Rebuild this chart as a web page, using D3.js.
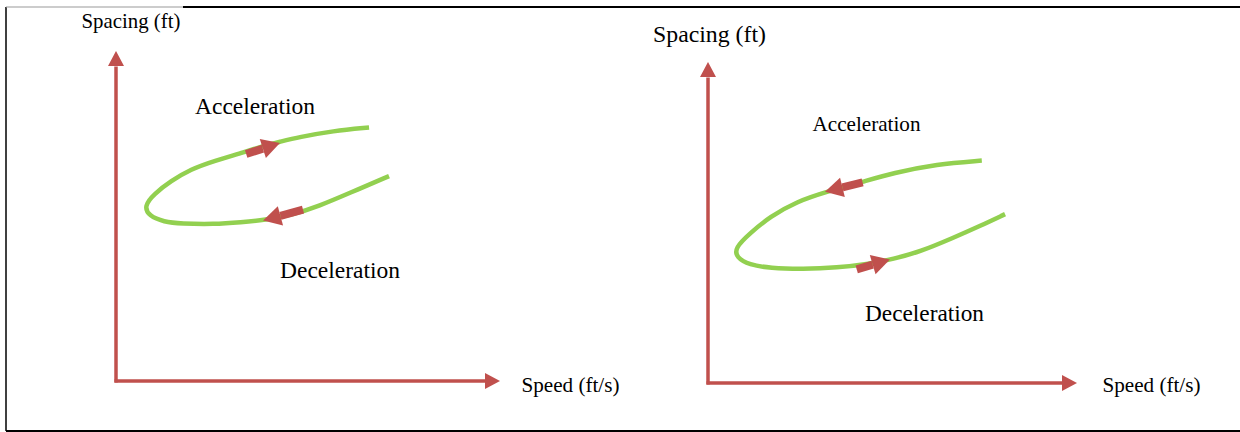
<!DOCTYPE html>
<html>
<head>
<meta charset="utf-8">
<script src="https://cdn.jsdelivr.net/npm/d3@7"></script>
<style>
  body { margin: 0; background: #fff; }
  text { font-family: "Liberation Serif", "Times New Roman", serif; fill: #000; }
</style>
</head>
<body>
<script>
// curve points (speed, spacing) in relative units 0-100 for each panel
const leftSpeed = [65.9, 56.5, 47.7, 42.4, 38.8, 33.6, 25.5, 19.5, 14.3, 9.9, 7.3, 8.6, 12.5, 16.9, 25.5, 32.6, 38.8, 45.8, 52.9, 60.9, 71.1];
const leftSpacing = [76.8, 75.8, 73.9, 72.4, 71.4, 69.4, 66.7, 64.2, 60.6, 56.7, 53.0, 50.0, 48.2, 47.7, 47.5, 48.1, 48.8, 50.3, 53.0, 57.0, 62.1];
const rightSpeed = [74.2, 62.0, 50.1, 42.0, 32.2, 24.0, 16.8, 11.4, 7.3, 7.7, 11.2, 16.8, 25.7, 34.9, 43.9, 50.1, 57.5, 66.4, 73.7, 80.5];
const rightSpacing = [69.3, 68.2, 65.4, 62.7, 59.6, 56.5, 51.8, 46.7, 42.1, 39.1, 36.8, 35.8, 35.5, 35.9, 37.1, 38.6, 40.9, 45.2, 48.9, 52.6];

// direction arrows: [tailSpeed, tailSpacing, tipSpeed, tipSpacing]
const leftArrows = [[33.9, 68.8, 42.7, 72.1], [48.7, 51.9, 38.3, 48.6]];
const rightArrows = [[41.9, 62.5, 31.7, 59.6], [40.3, 35.4, 49.3, 38.5]];

const axisLabels = ["Spacing (ft)", "Speed (ft/s)"];
const phaseLabels = ["Acceleration", "Deceleration"];

const red = "#c0504d";
const green = "#92d050";

const W = 1240, H = 432;

const svg = d3.select("body")
  .append("svg")
  .attr("width", W)
  .attr("height", H);

// outer frame
svg.append("line").attr("x1", 6).attr("y1", 7).attr("x2", 6).attr("y2", 431)
  .attr("stroke", "#000").attr("stroke-width", 1.5);
svg.append("line").attr("x1", 6).attr("y1", 431).attr("x2", W).attr("y2", 431)
  .attr("stroke", "#000").attr("stroke-width", 2);
svg.append("line").attr("x1", 6).attr("y1", 7).attr("x2", 183).attr("y2", 7)
  .attr("stroke", "#999").attr("stroke-width", 1);
svg.append("line").attr("x1", 183).attr("y1", 7).attr("x2", W).attr("y2", 7)
  .attr("stroke", "#000").attr("stroke-width", 2);

const panels = [
  {
    speed: leftSpeed, spacing: leftSpacing, arrows: leftArrows,
    xr: [116, 500], yr: [381, 51],
    labels: [
      { t: axisLabels[0], x: 81.5, y: 27.7, fs: 21, len: 99 },
      { t: phaseLabels[0], x: 195, y: 114, fs: 23.5, len: 120 },
      { t: phaseLabels[1], x: 280, y: 278.3, fs: 23.5, len: 120 },
      { t: axisLabels[1], x: 521.5, y: 392.3, fs: 21, len: 98 }
    ]
  },
  {
    speed: rightSpeed, spacing: rightSpacing, arrows: rightArrows,
    xr: [708, 1077], yr: [383, 62],
    labels: [
      { t: axisLabels[0], x: 653, y: 41.7, fs: 24, len: 113 },
      { t: phaseLabels[0], x: 812.5, y: 130.7, fs: 21, len: 108 },
      { t: phaseLabels[1], x: 865, y: 321.3, fs: 23.5, len: 119 },
      { t: axisLabels[1], x: 1102.5, y: 391.7, fs: 21, len: 98 }
    ]
  }
];

function arrowHead(g, x1, y1, x2, y2, len, half) {
  const a = Math.atan2(y2 - y1, x2 - x1);
  const bx = x2 - len * Math.cos(a), by = y2 - len * Math.sin(a);
  const nx = -Math.sin(a) * half, ny = Math.cos(a) * half;
  g.append("path")
    .attr("d", `M${x2},${y2}L${bx + nx},${by + ny}L${bx - nx},${by - ny}Z`)
    .attr("fill", red);
  return [bx, by];
}

panels.forEach(p => {
  const x = d3.scaleLinear().domain([0, 100]).range(p.xr);
  const y = d3.scaleLinear().domain([0, 100]).range(p.yr);
  const g = svg.append("g");

  // axes with arrowheads
  const x0 = x(0), y0 = y(0);
  const yb = arrowHead(g, x0, y0, x0, y(100), 15, 8);
  g.append("line").attr("x1", x0).attr("y1", y0 + 1.5).attr("x2", x0).attr("y2", yb[1] + 0.5)
    .attr("stroke", red).attr("stroke-width", 3.5);
  const xb = arrowHead(g, x0, y0, x(100), y0, 15, 8);
  g.append("line").attr("x1", x0 - 1.5).attr("y1", y0).attr("x2", xb[0] + 0.5).attr("y2", y0)
    .attr("stroke", red).attr("stroke-width", 3.5);

  // hysteresis curve
  const pts = p.speed.map((s, i) => [s, p.spacing[i]]);
  const line = d3.line()
    .x(d => x(d[0]))
    .y(d => y(d[1]))
    .curve(d3.curveBasis);
  g.append("path")
    .attr("d", line(pts))
    .attr("fill", "none")
    .attr("stroke", green)
    .attr("stroke-width", 4.5)
    .attr("stroke-linecap", "butt");

  // direction arrows
  p.arrows.forEach(a => {
    const tx = x(a[0]), ty = y(a[1]), hx = x(a[2]), hy = y(a[3]);
    const b = arrowHead(g, tx, ty, hx, hy, 18, 10);
    g.append("line").attr("x1", tx).attr("y1", ty).attr("x2", b[0]).attr("y2", b[1])
      .attr("stroke", red).attr("stroke-width", 8);
  });

  g.selectAll("text.lbl")
    .data(p.labels)
    .enter()
    .append("text")
    .attr("class", "lbl")
    .attr("x", d => d.x)
    .attr("y", d => d.y)
    .attr("textLength", d => d.len)
    .attr("lengthAdjust", "spacingAndGlyphs")
    .style("font-size", d => d.fs + "px")
    .text(d => d.t);
});
</script>
</body>
</html>
